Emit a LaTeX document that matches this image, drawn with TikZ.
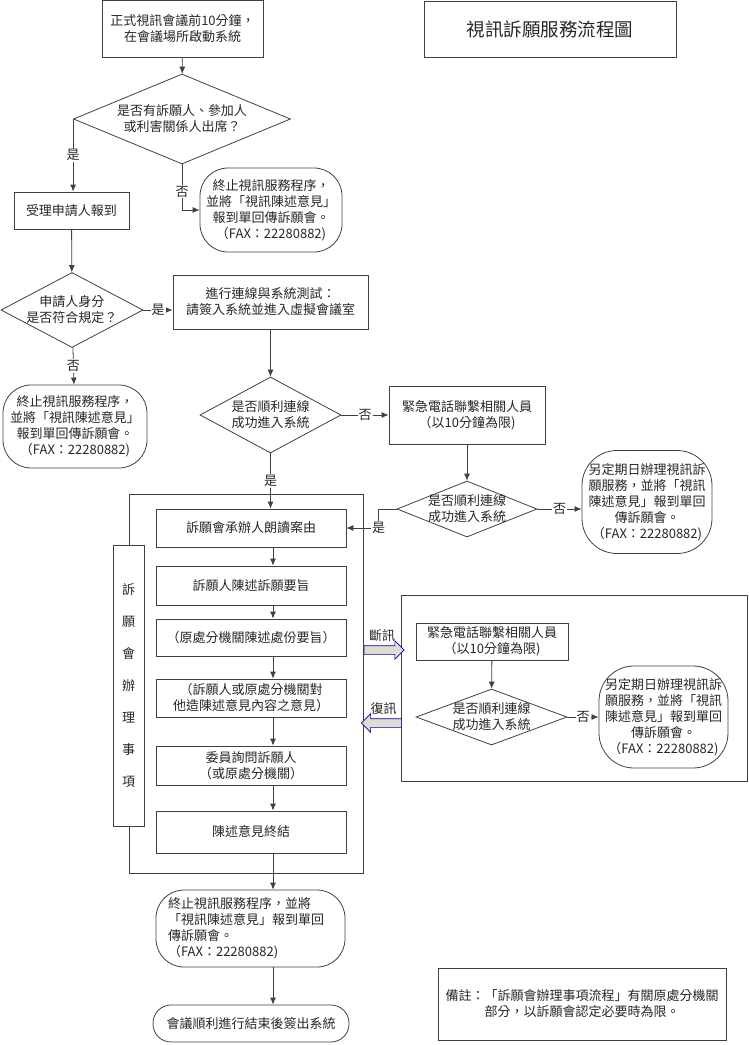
\documentclass[tikz,border=0pt]{standalone}
\usepackage{fontspec}
\setmainfont{Noto Sans CJK TC}
\usepackage{tikz}
\usetikzlibrary{shapes,arrows,positioning,calc,arrows.meta}

\begin{document}
\begin{tikzpicture}[x=1pt, y=-1pt, line width=0.8pt, draw=black!75,
    every node/.style={align=center, font=\fontsize{13}{16}\selectfont, text=black!85},
    box/.style={rectangle, draw=black!75, inner sep=2pt},
    inbox/.style={box, minimum width=190pt, minimum height=38pt},
    dec/.style={diamond, draw=black!75, inner sep=-4pt},
    term/.style={rectangle, rounded corners=28pt, draw=black!75, inner sep=2pt},
    lbl/.style={fill=white, inner sep=1pt},
    arr/.style={draw=black!75, -{Latex[length=7pt,width=6pt]}},
    bigarrow/.style={single arrow, draw=blue!70!black, fill=olive!15!gray!30, line width=0.6pt,
        minimum width=18pt, minimum height=40pt, single arrow head extend=5pt, inner sep=4pt}]
    \useasboundingbox (0,0) rectangle (748,1045);

    \node[box, minimum width=161pt, minimum height=57pt] (start) at (182.5,28.5) {正式視訊會議前10分鐘，\\在會議場所啟動系統};
    \node[box, minimum width=252pt, minimum height=56pt, font=\fontsize{18.5}{22}\selectfont] (title) at (550,29) {視訊訴願服務流程圖};
    \node[dec, aspect=2.4, minimum width=217pt, minimum height=90pt] (q1) at (182,119) {是否有訴願人、參加人\\或利害關係人出席？};
    \node[box, minimum width=115pt, minimum height=37pt] (check) at (71.5,210.5) {受理申請人報到};
    \node[term, minimum width=142pt, minimum height=84pt] (stop1) at (271,210) {終止視訊服務程序，\\並將「視訊陳述意見」\\報到單回傳訴願會。\\（FAX：22280882)};
    \node[dec, aspect=1.9, minimum width=142pt, minimum height=75pt] (q2) at (72,310) {申請人身分\\是否符合規定？};
    \node[box, minimum width=195pt, minimum height=54pt] (test) at (270.5,302) {進行連線與系統測試：\\請簽入系統並進入虛擬會議室};
    \node[term, minimum width=144pt, minimum height=83pt] (stop2) at (75,426.5) {終止視訊服務程序，\\並將「視訊陳述意見」\\報到單回傳訴願會。\\（FAX：22280882)};
    \node[dec, aspect=1.85, minimum width=141pt, minimum height=76pt] (q3) at (270.5,415) {是否順利連線\\成功進入系統};
    \node[box, minimum width=156pt, minimum height=58pt] (call) at (467,415) {緊急電話聯繫相關人員\\（以10分鐘為限)};
    \node[dec, aspect=2.5, minimum width=140pt, minimum height=56pt] (q4) at (467,509) {是否順利連線\\成功進入系統};
    \node[term, rounded corners=35pt, minimum width=130pt, minimum height=103pt] (later) at (647,502) {另定期日辦理視訊訴\\願服務，並將「視訊\\陳述意見」報到單回\\傳訴願會。\\（FAX：22280882)};

    % 訴願會辦理事項
    \node[draw=black!75, minimum width=234pt, minimum height=379pt] (group) at (246,683.5) {};
    \node[box, fill=white, minimum width=31pt, minimum height=281pt] (side) at (128.5,685.5) {訴\\[16pt]願\\[16pt]會\\[16pt]辦\\[16pt]理\\[16pt]事\\[16pt]項};
    \node[inbox] (read) at (251,528) {訴願會承辦人朗讀案由};
    \node[inbox, below of=read, node distance=57.5pt, minimum height=39pt] (state) {訴願人陳述訴願要旨};
    \node[inbox, below of=state, node distance=52pt, minimum height=37pt] (orgstate) {（原處分機關陳述處份要旨）};
    \node[inbox, below of=orgstate, node distance=60.5pt] (reply) {（訴願人或原處分機關對\\他造陳述意見內容之意見）};
    \node[inbox, below of=reply, node distance=67.5pt, minimum height=39pt] (ask) {委員詢問訴願人\\（或原處分機關）};
    \node[inbox, below of=ask, node distance=66.5pt, minimum height=42pt] (close) {陳述意見終結};
    \coordinate (spine) at (273,0);

    \node[term, minimum width=189pt, minimum height=77pt, text width=165pt, align=left] (stop3) at (250.5,928.5) {終止視訊服務程序，並將\\「視訊陳述意見」報到單回\\傳訴願會。\\（FAX：22280882)};
    \node[term, rounded corners=18pt, minimum width=196pt, minimum height=37pt] (logout) at (251,1023.5) {會議順利進行結束後簽出系統};
    \node[box, minimum width=288pt, minimum height=72pt] (note) at (582,1004) {備註：「訴願會辦理事項流程」有關原處分機關\\部分，以訴願會認定必要時為限。};

    % 斷訊時
    \node[draw=black!75, minimum width=346pt, minimum height=186pt] (backup) at (574,688) {};
    \node[box, minimum width=152pt, minimum height=37pt] (call2) at (492,641.5) {緊急電話聯繫相關人員\\（以10分鐘為限)};
    \node[dec, aspect=2.7, minimum width=151pt, minimum height=56pt] (q5) at (491.5,717) {是否順利連線\\成功進入系統};
    \node[term, rounded corners=35pt, minimum width=129pt, minimum height=102pt] (later2) at (663.5,717) {另定期日辦理視訊訴\\願服務，並將「視訊\\陳述意見」報到單回\\傳訴願會。\\（FAX：22280882)};
    \node[bigarrow] (cutoff) at (382,650) {};
    \node[bigarrow, shape border rotate=180] (resume) at (383.5,723) {};
    \node[above=0pt of cutoff] (cutlbl) {斷訊};
    \node[above=0pt of resume] (reslbl) {復訊};

    \draw[arr] (start) -- (q1);
    \draw[arr] (q1.west) -- node[lbl] {是} (q1.west |- check.north);
    \draw[arr] (q1.south) |- node[lbl, pos=0.3] {否} (stop1.west);
    \draw[arr] (check) -- (q2);
    \draw[arr] (q2.east) -- node[lbl] {是} (q2.east -| test.west);
    \draw[arr] (q2) -- node[lbl] {否} (stop2);
    \draw[arr] (test.south) -- (test.south |- q3.north);
    \draw[arr] (q3.east) -- node[lbl] {否} (call.west);
    \draw[arr] (q3.south) -- node[lbl] {是} (q3.south |- read.north);
    \draw[arr] (call) -- (q4);
    \draw[arr] (q4.east) -- node[lbl] {否} (q4.east -| later.west);
    \draw[arr] (q4.west) -- ++(-18,0) |- node[lbl] {是} (read.east);
    \draw[arr] (read.south -| spine) -- (state.north -| spine);
    \draw[arr] (state.south -| spine) -- (orgstate.north -| spine);
    \draw[arr] (orgstate.south -| spine) -- (reply.north -| spine);
    \draw[arr] (reply.south -| spine) -- (ask.north -| spine);
    \draw[arr] (ask.south -| spine) -- (close.north -| spine);
    \draw[arr] (close.south -| spine) -- (stop3.north -| spine);
    \draw[arr] (stop3.south -| spine) -- (logout.north -| spine);
    \draw[arr] (call2) -- (q5);
    \draw[arr] (q5.east) -- node[lbl] {否} (q5.east -| later2.west);
\end{tikzpicture}
\end{document}
